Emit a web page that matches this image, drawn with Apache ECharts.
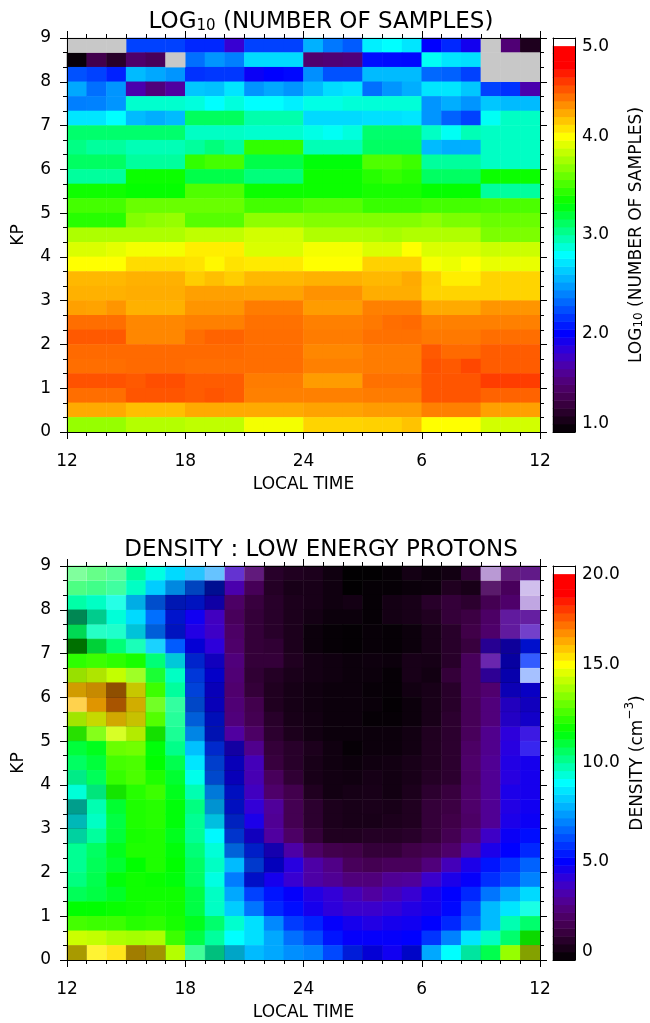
<!DOCTYPE html>
<html>
<head>
<meta charset="utf-8">
<script src="https://cdn.jsdelivr.net/npm/echarts@6/dist/echarts.min.js"></script>
<style>
  html, body { margin: 0; padding: 0; background: #ffffff; }
  #chart { width: 650px; height: 1023px; }
</style>
</head>
<body>
<div id="chart"></div>
<script>
// Hour bins in local time, starting at noon (one column per hour)
const hourBins = ['12','13','14','15','16','17','18','19','20','21','22','23','24','1','2','3','4','5','6','7','8','9','10','11'];
// Kp bins in thirds (one row each), bottom to top
const kpBins = ['0','0+','1-','1','1+','2-','2','2+','3-','3','3+','4-','4','4+','5-','5','5+','6-','6','6+','7-','7','7+','8-','8','8+','9-'];
// Labels on the major local-time ticks (every 6 h)
const timeTickLabels = ['12', '18', '24', '6', '12'];

// log10(number of samples); rows listed from Kp 9 (top) down to Kp 0; null = no samples
const logSamples = [
  [null,null,null,2.2,2.2,2.2,2.12,2.12,1.8,2.2,2.2,2.2,2.55,2.37,2.28,2.75,2.8,2.72,2.0,2.12,1.93,null,1.5,1.15],
  [1.04,1.34,1.2,1.46,1.4,null,2.34,2.46,2.39,2.68,2.68,2.68,1.48,1.5,1.52,2.04,2.03,2.02,2.82,2.72,2.7,null,null,null],
  [2.25,2.2,2.1,2.58,2.52,2.46,2.15,2.17,2.17,1.96,2.0,2.02,2.44,2.25,2.25,2.58,2.58,2.58,2.32,2.3,2.2,null,null,null],
  [2.52,2.34,2.46,1.68,1.52,1.64,2.62,2.6,2.72,2.46,2.52,2.46,2.58,2.69,2.72,2.34,2.46,2.54,2.72,2.72,2.62,2.2,2.15,1.68],
  [2.39,2.4,2.46,2.9,2.9,2.9,2.87,2.8,2.87,2.8,2.8,2.75,2.85,2.85,2.88,2.88,2.88,2.88,2.46,2.54,2.46,2.62,2.58,2.58],
  [2.72,2.72,2.8,2.58,2.54,2.58,3.13,3.13,3.13,2.97,2.97,2.97,2.68,2.68,2.68,2.7,2.7,2.72,2.46,2.3,2.2,2.82,2.92,2.92],
  [3.1,3.1,3.1,3.1,3.1,3.1,2.92,2.92,2.92,2.9,2.9,2.9,2.85,2.82,2.87,3.1,3.1,3.1,2.92,2.82,2.95,2.92,2.92,2.92],
  [3.05,3.0,3.0,2.95,2.95,2.95,3.0,3.07,3.0,3.45,3.45,3.45,2.95,2.95,2.95,3.12,3.12,3.12,2.58,2.54,2.54,2.92,2.92,2.92],
  [3.12,3.12,3.12,3.0,3.0,3.0,3.45,3.5,3.5,3.17,3.17,3.17,3.3,3.3,3.3,3.53,3.53,3.48,3.0,3.0,3.0,2.92,2.92,2.92],
  [3.0,3.0,3.0,3.35,3.35,3.35,3.17,3.17,3.17,3.07,3.07,3.07,3.35,3.35,3.35,3.42,3.46,3.42,3.12,3.12,3.12,3.35,3.35,3.35],
  [3.36,3.36,3.36,3.33,3.33,3.33,3.53,3.53,3.53,3.35,3.35,3.35,3.35,3.35,3.35,3.38,3.38,3.38,3.33,3.33,3.33,3.0,3.0,3.0],
  [3.5,3.5,3.5,3.6,3.6,3.6,3.6,3.6,3.6,3.5,3.5,3.5,3.55,3.55,3.55,3.47,3.47,3.47,3.5,3.5,3.5,3.52,3.52,3.52],
  [3.42,3.42,3.42,3.67,3.7,3.72,3.55,3.55,3.55,3.7,3.7,3.7,3.67,3.67,3.67,3.67,3.67,3.67,3.7,3.65,3.65,3.6,3.6,3.6],
  [3.78,3.78,3.78,3.78,3.78,3.78,3.83,3.83,3.83,3.88,3.88,3.88,3.79,3.79,3.79,3.78,3.76,3.79,3.79,3.79,3.79,3.65,3.65,3.65],
  [3.9,3.9,3.93,3.97,3.97,3.97,4.05,4.05,4.05,3.9,3.9,3.9,3.97,3.97,3.97,3.9,3.9,4.0,3.9,3.9,3.9,3.86,3.86,3.86],
  [4.0,4.0,4.0,4.1,4.1,4.1,4.08,4.02,4.08,4.06,4.06,4.06,4.0,4.0,4.0,4.13,4.13,4.13,3.98,3.95,4.0,3.94,3.94,3.94],
  [4.2,4.2,4.2,4.22,4.22,4.22,4.14,4.18,4.14,4.2,4.2,4.2,4.22,4.22,4.22,4.2,4.2,4.24,4.13,4.05,4.05,4.12,4.12,4.12],
  [4.22,4.22,4.22,4.23,4.23,4.23,4.27,4.27,4.27,4.26,4.26,4.26,4.31,4.31,4.31,4.23,4.23,4.23,4.12,4.12,4.12,4.12,4.12,4.12],
  [4.27,4.26,4.3,4.22,4.22,4.22,4.3,4.3,4.3,4.37,4.37,4.37,4.28,4.28,4.28,4.36,4.36,4.36,4.24,4.24,4.24,4.3,4.3,4.3],
  [4.41,4.41,4.41,4.34,4.34,4.34,4.36,4.36,4.36,4.4,4.4,4.4,4.36,4.36,4.36,4.38,4.41,4.42,4.36,4.36,4.36,4.36,4.36,4.36],
  [4.47,4.47,4.47,4.34,4.34,4.34,4.41,4.44,4.44,4.41,4.41,4.41,4.37,4.37,4.37,4.4,4.4,4.4,4.38,4.38,4.38,4.41,4.41,4.41],
  [4.42,4.42,4.42,4.42,4.42,4.42,4.42,4.42,4.42,4.41,4.41,4.41,4.34,4.34,4.34,4.37,4.37,4.37,4.47,4.42,4.42,4.46,4.46,4.46],
  [4.41,4.41,4.41,4.42,4.42,4.42,4.41,4.41,4.41,4.41,4.41,4.41,4.36,4.36,4.36,4.37,4.37,4.37,4.49,4.47,4.52,4.46,4.46,4.46],
  [4.49,4.49,4.49,4.47,4.5,4.5,4.46,4.46,4.46,4.37,4.37,4.37,4.28,4.28,4.28,4.4,4.4,4.4,4.48,4.48,4.48,4.55,4.55,4.55],
  [4.41,4.41,4.41,4.48,4.48,4.48,4.46,4.48,4.46,4.36,4.36,4.36,4.36,4.36,4.36,4.37,4.37,4.37,4.48,4.48,4.48,4.44,4.44,4.44],
  [4.24,4.24,4.24,4.18,4.18,4.18,4.24,4.24,4.24,4.24,4.24,4.24,4.26,4.26,4.26,4.28,4.28,4.28,4.36,4.36,4.36,4.27,4.27,4.27],
  [3.72,3.72,3.72,3.8,3.8,3.8,3.83,3.83,3.83,3.97,3.97,3.97,4.12,4.12,4.12,4.13,4.13,4.17,4.0,4.0,4.0,3.88,3.88,3.88]
];

// Low-energy proton density (cm^-3); rows listed from Kp 9 (top) down to Kp 0
const density = [
  [11.0,11.0,10.6,10.0,9.3,8.4,7.9,7.4,3.8,2.4,1.0,0.8,0.7,0.4,0.05,0.05,0.15,0.5,0.3,0.45,1.2,3.0,2.4,2.6],
  [10.8,10.6,10.3,9.6,8.2,7.4,6.4,5.4,3.4,1.9,0.9,0.6,0.6,0.4,0.05,0.15,0.15,0.25,0.3,0.8,0.6,2.0,2.0,3.6],
  [9.9,9.6,9.3,8.0,6.5,5.5,5.4,4.6,2.2,1.4,1.0,0.7,0.6,0.4,0.5,0.15,0.5,0.6,1.0,1.3,1.1,1.8,2.3,3.4],
  [10.0,9.8,9.4,8.4,6.7,5.4,4.7,3.7,2.0,1.3,1.0,0.7,0.5,0.3,0.3,0.15,0.5,0.6,0.8,1.3,1.5,2.2,3.0,3.0],
  [10.6,9.7,9.6,8.6,6.7,5.4,4.4,3.8,2.2,1.3,1.0,0.7,0.3,0.15,0.1,0.2,0.15,0.3,0.6,1.0,1.6,2.3,3.0,3.6],
  [11.6,10.9,10.4,9.8,8.2,6.4,4.9,4.2,2.3,1.3,1.2,0.7,0.3,0.15,0.1,0.2,0.15,0.3,0.6,1.0,1.4,4.0,4.6,5.3],
  [12.2,12.4,12.2,11.9,10.4,8.7,5.7,4.6,2.6,1.3,1.3,0.8,0.5,0.4,0.3,0.35,0.3,0.6,0.55,1.0,2.0,3.2,4.8,5.8],
  [13.9,14.2,14.2,13.5,11.3,9.6,6.0,4.9,2.5,1.2,0.9,0.65,0.5,0.4,0.3,0.3,0.15,0.6,0.45,1.3,2.0,3.8,4.8,6.2],
  [15.9,16.1,16.6,15.0,12.4,10.0,6.2,4.8,2.4,1.3,0.8,0.55,0.4,0.3,0.3,0.2,0.15,0.45,0.6,1.0,2.0,2.4,4.7,4.8],
  [15.9,16.2,16.8,15.6,12.8,10.2,6.4,4.8,2.5,1.7,0.8,0.55,0.4,0.3,0.3,0.25,0.1,0.3,0.6,1.0,1.9,2.6,4.3,4.6],
  [14.0,14.7,15.7,15.1,12.7,10.2,6.7,5.3,2.6,1.8,1.0,0.6,0.45,0.3,0.3,0.15,0.15,0.3,0.6,1.1,1.9,2.6,4.3,4.6],
  [12.2,13.2,14.4,14.2,11.9,10.2,7.3,5.4,3.2,2.2,1.1,0.7,0.45,0.3,0.3,0.3,0.3,0.45,0.8,1.1,2.0,2.9,4.2,4.3],
  [11.0,11.3,13.0,13.1,11.5,10.2,8.0,5.8,4.5,2.9,1.3,1.0,0.7,0.4,0.15,0.3,0.3,0.45,0.8,1.1,2.2,2.9,4.3,4.6],
  [10.6,11.0,12.5,12.6,11.6,10.8,8.6,6.2,4.8,3.6,1.4,1.0,0.6,0.4,0.3,0.4,0.45,0.6,0.8,1.1,2.3,3.0,4.4,4.6],
  [10.1,10.7,12.3,12.6,12.0,11.1,9.2,6.4,4.8,3.5,2.0,1.2,0.6,0.45,0.4,0.55,0.45,0.6,0.9,1.1,2.2,3.0,4.3,4.6],
  [9.4,10.2,11.9,12.1,12.4,11.3,9.8,7.2,5.3,3.7,2.3,1.7,0.8,0.45,0.55,0.6,0.45,0.7,1.1,1.4,2.3,3.0,4.5,4.6],
  [9.3,9.8,11.1,12.0,12.1,11.5,10.3,7.8,5.3,4.1,3.1,1.8,1.1,0.7,0.6,0.65,0.6,0.8,1.3,1.5,2.3,3.0,4.4,4.7],
  [9.0,9.6,10.9,12.0,12.1,11.5,10.1,8.4,5.7,4.5,3.0,1.8,1.1,0.7,0.6,0.6,0.7,0.8,1.3,1.6,2.2,3.0,4.5,4.8],
  [9.6,10.0,11.0,11.9,12.0,11.3,10.1,8.9,6.0,4.6,3.2,2.2,1.3,0.8,0.8,0.9,0.9,1.0,1.3,1.8,2.6,3.8,4.8,5.2],
  [10.1,10.6,11.3,12.0,12.0,11.5,10.4,9.4,6.8,5.6,4.5,3.3,2.2,1.7,1.6,1.3,1.3,1.6,1.8,2.3,3.3,4.5,5.0,5.6],
  [10.1,10.7,11.1,11.6,12.0,11.6,10.6,9.6,7.9,6.1,4.9,4.3,3.3,2.8,2.0,1.8,2.0,2.0,2.6,3.6,4.5,5.3,5.8,6.5],
  [10.3,10.8,11.5,11.8,11.7,11.5,10.6,9.3,6.9,5.3,4.6,4.0,3.3,3.0,2.6,2.6,3.0,3.1,3.9,4.5,4.9,5.7,6.2,7.0],
  [10.7,10.9,11.2,11.8,11.8,11.8,10.9,9.6,7.6,6.0,5.3,4.9,4.4,4.1,3.6,3.2,3.6,4.0,4.6,5.0,5.6,6.8,7.6,8.4],
  [11.6,11.6,11.7,11.8,11.9,11.8,10.9,9.6,8.2,6.8,5.6,5.2,4.6,4.2,3.9,3.9,4.1,4.4,4.6,5.1,6.2,7.9,8.6,9.3],
  [12.5,12.4,12.4,12.1,12.2,11.9,11.3,10.5,9.5,8.5,7.1,5.9,5.5,4.9,4.6,4.4,4.6,4.7,5.0,5.6,6.6,7.9,9.8,10.5],
  [14.3,14.2,13.9,13.8,13.9,12.4,10.9,10.0,9.0,8.5,7.6,6.7,6.1,5.3,4.9,4.9,4.9,5.0,5.8,7.0,8.6,9.6,10.5,11.8],
  [15.3,15.2,15.4,15.8,15.3,14.0,10.4,9.9,8.3,7.9,7.6,7.2,7.0,6.1,5.5,4.9,4.7,5.1,7.6,9.0,9.8,10.8,13.6,14.4]
];

// Cells of the density panel drawn darker than their colour level: [hour bin, Kp bin, amount]
const densityDimmed = [
  [5,25,0.12],[6,25,0.25],[7,25,0.43],
  [3,24,0.1],[4,24,0.2],[5,24,0.3],[6,24,0.25],[7,24,0.3],
  [0,23,0.47],[1,23,0.2],[5,23,0.2],
  [0,22,0.15],[3,22,0.15],[4,22,0.15],[5,22,0.25],
  [0,21,0.56],[1,21,0.18],[6,21,0.15],[21,21,0.3],[22,21,0.35],[23,21,0.2],
  [5,20,0.15],[6,20,0.2],[7,20,0.2],[22,20,0.35],
  [0,19,0.12],[1,19,0.1],[6,19,0.15],[7,19,0.2],[21,19,0.25],[22,19,0.3],
  [0,18,0.18],[1,18,0.22],[2,18,0.44],[3,18,0.22],[6,18,0.15],[7,18,0.25],[22,18,0.25],[23,18,0.2],
  [1,17,0.12],[2,17,0.34],[3,17,0.18],[6,17,0.22],[7,17,0.25],[22,17,0.15],[23,17,0.2],
  [0,16,0.1],[1,16,0.15],[2,16,0.18],[3,16,0.22],[6,16,0.15],[7,16,0.28],[22,16,0.12],[23,16,0.15],
  [0,15,0.12],[3,15,0.08],[4,15,0.12],[6,15,0.1],[7,15,0.3],
  [7,14,0.2],[8,14,0.3],
  [7,13,0.2],[8,13,0.25],
  [0,12,0.08],[7,12,0.2],[8,12,0.25],
  [1,11,0.1],[2,11,0.1],[7,11,0.15],[8,11,0.25],
  [0,10,0.38],[7,10,0.18],[8,10,0.25],
  [0,9,0.28],[7,9,0.12],[8,9,0.25],
  [0,8,0.18],[8,8,0.2],[9,8,0.2],
  [8,7,0.15],[9,7,0.22],[10,7,0.25],
  [9,6,0.2],[10,6,0.25],
  [9,5,0.22],
  [23,1,0.15],
  [0,0,0.34],[3,0,0.37],[4,0,0.37],[7,0,0.25],[8,0,0.22],[14,0,0.15],[15,0,0.15],[17,0,0.22],[20,0,0.1],[23,0,0.37]
];
// Cells of the density panel drawn paler than their colour level: [hour bin, Kp bin, amount]
const densityPaled = [
  [0,26,0.5],[1,26,0.4],[2,26,0.35],[6,26,0.15],[7,26,0.4],[8,26,0.2],[9,26,0.1],[21,26,0.6],[22,26,0.1],[23,26,0.1],
  [0,25,0.3],[1,25,0.25],[2,25,0.25],[21,25,0.1],[23,25,0.75],
  [2,24,0.15],[23,24,0.65],
  [22,23,0.1],[23,23,0.12],
  [1,22,0.15],[2,22,0.12],[22,22,0.1],[23,22,0.25],
  [3,21,0.1],[4,21,0.1],
  [21,20,0.15],[23,20,0.2],
  [3,19,0.15],[4,19,0.1],[23,19,0.65],
  [0,17,0.3],[4,17,0.15],[5,17,0.2],
  [5,16,0.15],
  [1,15,0.1],[2,15,0.15],[5,15,0.1],[23,15,0.1],
  [23,14,0.15],
  [23,3,0.1],
  [1,0,0.2],[2,0,0.1],[6,0,0.25]
];

// Rainbow + white colour table: [position 0..1, r, g, b]
const rampStops = [
  [0.00, 0, 0, 0], [0.04, 32, 0, 32], [0.08, 64, 0, 72], [0.12, 80, 0, 110],
  [0.16, 80, 0, 160], [0.20, 56, 0, 210], [0.25, 0, 0, 255], [0.35, 0, 130, 255],
  [0.45, 0, 255, 255], [0.58, 0, 255, 0], [0.75, 255, 255, 0], [0.93, 255, 0, 0],
  [0.975, 255, 0, 0], [0.98, 255, 255, 255], [1.00, 255, 255, 255]
];
function rampColor(f) {
  for (let i = 1; i < rampStops.length; i++) {
    const a = rampStops[i - 1], b = rampStops[i];
    if (f <= b[0] + 1e-9) {
      const t = b[0] === a[0] ? 1 : (f - a[0]) / (b[0] - a[0]);
      const c = [1, 2, 3].map(k => Math.round(a[k] + (b[k] - a[k]) * t));
      return 'rgb(' + c.join(',') + ')';
    }
  }
  return 'rgb(255,255,255)';
}
const palette = [];
for (let i = 0; i <= 100; i++) palette.push(rampColor(i / 100));

// Turn top-down row lists into [hour, kp, value] heatmap cells
function toCells(rows) {
  const out = [];
  rows.forEach((row, i) => {
    const k = rows.length - 1 - i;
    row.forEach((v, h) => { if (v !== null) out.push([h, k, v]); });
  });
  return out;
}
function missingCells(rows) {
  const out = [];
  rows.forEach((row, i) => {
    const k = rows.length - 1 - i;
    row.forEach((v, h) => { if (v === null) out.push([h, k, 1]); });
  });
  return out;
}
// Colour-bar ramp: evenly spaced levels from min to max
const BAR_LEVELS = 50;
function barCells(min, max) {
  const out = [];
  for (let i = 0; i < BAR_LEVELS; i++) out.push([0, i, min + (i + 0.5) * (max - min) / BAR_LEVELS]);
  return out;
}
const barCats = Array.from({ length: BAR_LEVELS }, (_, i) => String(i));

const FONT = 'DejaVu Sans';
const INK = '#000000';
const axisInk = { color: INK, width: 1 };

const gridList = [], xAxisList = [], yAxisList = [], seriesList = [], visualMapList = [];

function addPanel(panelTop, cfg) {
  const g = gridList.length;
  gridList.push({ left: 67, top: panelTop, width: 473, height: 394 });
  gridList.push({ left: 553, top: panelTop, width: 22, height: 394 });
  const b = g + 1;

  const xCat = xAxisList.length;
  xAxisList.push({ type: 'category', gridIndex: g, data: hourBins, show: false });
  xAxisList.push({
    type: 'value', gridIndex: g, position: 'bottom', min: 0, max: 24, interval: 6, z: 10,
    axisLine: { show: true, onZero: false, lineStyle: axisInk },
    axisTick: { show: true, length: 7, lineStyle: axisInk },
    minorTick: { show: true, splitNumber: 6, length: 4, lineStyle: axisInk },
    splitLine: { show: false },
    axisLabel: { color: INK, fontSize: 17, fontFamily: FONT, margin: 21,
      formatter: v => timeTickLabels[Math.round(v / 6)] },
    name: 'LOCAL TIME', nameLocation: 'middle', nameGap: 44,
    nameTextStyle: { color: INK, fontSize: 17, fontFamily: FONT }
  });
  xAxisList.push({
    type: 'value', gridIndex: g, position: 'top', min: 0, max: 24, interval: 6, z: 10,
    axisLine: { show: true, onZero: false, lineStyle: axisInk },
    axisTick: { show: true, length: 7, lineStyle: axisInk },
    minorTick: { show: true, splitNumber: 6, length: 4, lineStyle: axisInk },
    splitLine: { show: false }, axisLabel: { show: false }
  });
  const yCat = yAxisList.length;
  yAxisList.push({ type: 'category', gridIndex: g, data: kpBins, show: false });
  yAxisList.push({
    type: 'value', gridIndex: g, position: 'left', min: 0, max: 9, interval: 1, z: 10,
    axisLine: { show: true, onZero: false, lineStyle: axisInk },
    axisTick: { show: true, length: 7, lineStyle: axisInk },
    minorTick: { show: true, splitNumber: 3, length: 4, lineStyle: axisInk },
    splitLine: { show: false },
    axisLabel: { color: INK, fontSize: 17, fontFamily: FONT, margin: 16 },
    name: 'KP', nameLocation: 'middle', nameGap: 40, nameRotate: 90,
    nameTextStyle: { color: INK, fontSize: 17, fontFamily: FONT }
  });
  yAxisList.push({
    type: 'value', gridIndex: g, position: 'right', min: 0, max: 9, interval: 1, z: 10,
    axisLine: { show: true, onZero: false, lineStyle: axisInk },
    axisTick: { show: true, length: 7, lineStyle: axisInk },
    minorTick: { show: true, splitNumber: 3, length: 4, lineStyle: axisInk },
    splitLine: { show: false }, axisLabel: { show: false }
  });

  // colour bar
  const xBar = xAxisList.length;
  xAxisList.push({ type: 'category', gridIndex: b, data: ['0'], position: 'bottom', z: 10,
    axisLine: { show: true, onZero: false, lineStyle: axisInk }, axisTick: { show: false }, axisLabel: { show: false } });
  xAxisList.push({ type: 'category', gridIndex: b, data: ['0'], position: 'top', z: 10,
    axisLine: { show: true, onZero: false, lineStyle: axisInk }, axisTick: { show: false }, axisLabel: { show: false } });
  const yBar = yAxisList.length;
  yAxisList.push({ type: 'category', gridIndex: b, data: barCats, show: false });
  yAxisList.push({
    type: 'value', gridIndex: b, position: 'right', min: cfg.min, max: cfg.max, interval: cfg.step, z: 10,
    axisLine: { show: true, onZero: false, lineStyle: axisInk }, axisTick: { show: false },
    splitLine: { show: false },
    axisLabel: { color: INK, fontSize: 17, fontFamily: FONT, margin: 7, formatter: cfg.fmt,
      verticalAlignMinLabel: 'bottom', verticalAlignMaxLabel: 'top' },
    name: cfg.barName, nameLocation: 'middle', nameGap: 48, nameRotate: 90,
    nameTextStyle: { color: INK, fontSize: 17, fontFamily: FONT, fontWeight: 'normal', rich: {
      t: { fontSize: 17, fontFamily: FONT, fontWeight: 'normal', color: INK, lineHeight: 22, verticalAlign: 'bottom' },
      s: { fontSize: 12, fontFamily: FONT, fontWeight: 'normal', color: INK, lineHeight: 12, verticalAlign: 'bottom' },
      p: { fontSize: 12, fontFamily: FONT, fontWeight: 'normal', color: INK, lineHeight: 12, verticalAlign: 'top' }
    } }
  });
  yAxisList.push({ type: 'value', gridIndex: b, position: 'left', min: cfg.min, max: cfg.max, z: 10,
    axisLine: { show: true, onZero: false, lineStyle: axisInk }, axisTick: { show: false },
    splitLine: { show: false }, axisLabel: { show: false } });

  const sMain = seriesList.length;
  seriesList.push({ type: 'heatmap', name: cfg.name, xAxisIndex: xCat, yAxisIndex: yCat,
    data: cfg.cells, emphasis: { disabled: true } });
  const sBar = seriesList.length;
  seriesList.push({ type: 'heatmap', name: cfg.name + ' scale', xAxisIndex: xBar, yAxisIndex: yBar,
    data: barCells(cfg.min, cfg.max), emphasis: { disabled: true } });
  visualMapList.push({ type: 'continuous', show: false, seriesIndex: [sMain, sBar], dimension: 2,
    min: cfg.min, max: cfg.max, inRange: { color: palette } });

  return { xCat, yCat };
}

const samplesPanel = addPanel(38, {
  name: 'samples', min: 1, max: 5, step: 1, fmt: v => v.toFixed(1),
  cells: toCells(logSamples),
  barName: '{t|LOG}{s|10}{t| (NUMBER OF SAMPLES)}'
});
// bins with no samples
seriesList.push({ type: 'heatmap', name: 'no samples', xAxisIndex: samplesPanel.xCat, yAxisIndex: samplesPanel.yCat,
  data: missingCells(logSamples), emphasis: { disabled: true } });
visualMapList.push({ type: 'continuous', show: false, seriesIndex: [seriesList.length - 1], dimension: 2,
  min: 0, max: 2, inRange: { color: ['#c8c8c8', '#c8c8c8'] } });

const densityPanel = addPanel(566, {
  name: 'density', min: 0, max: 20, step: 5, fmt: v => (v === 0 ? '0' : v.toFixed(1)),
  cells: toCells(density),
  barName: '{t|DENSITY (cm}{p|\u22123}{t|)}'
});
seriesList.push({ type: 'heatmap', name: 'dimmed', xAxisIndex: densityPanel.xCat, yAxisIndex: densityPanel.yCat,
  data: densityDimmed, emphasis: { disabled: true } });
visualMapList.push({ type: 'continuous', show: false, seriesIndex: [seriesList.length - 1], dimension: 2,
  min: 0, max: 1, inRange: { color: ['rgba(0,0,0,0)', 'rgba(0,0,0,1)'] } });
seriesList.push({ type: 'heatmap', name: 'paled', xAxisIndex: densityPanel.xCat, yAxisIndex: densityPanel.yCat,
  data: densityPaled, emphasis: { disabled: true } });
visualMapList.push({ type: 'continuous', show: false, seriesIndex: [seriesList.length - 1], dimension: 2,
  min: 0, max: 1, inRange: { color: ['rgba(255,255,255,0)', 'rgba(255,255,255,1)'] } });

const titleRich = {
  t: { fontSize: 23, fontFamily: FONT, fontWeight: 'normal', color: INK, lineHeight: 28, verticalAlign: 'bottom' },
  s: { fontSize: 15, fontFamily: FONT, fontWeight: 'normal', color: INK, lineHeight: 15, verticalAlign: 'bottom' }
};

const chart = echarts.init(document.getElementById('chart'), null, { renderer: 'canvas' });
chart.setOption({
  animation: false,
  backgroundColor: '#ffffff',
  textStyle: { fontFamily: FONT, color: INK },
  title: [
    { text: '{t|LOG}{s|10}{t| (NUMBER OF SAMPLES)}', left: 321, top: 6, textAlign: 'center', padding: 0,
      textStyle: { fontWeight: 'normal', rich: titleRich } },
    { text: '{t|DENSITY : LOW ENERGY PROTONS}', left: 321, top: 534, textAlign: 'center', padding: 0,
      textStyle: { fontWeight: 'normal', rich: titleRich } }
  ],
  grid: gridList, xAxis: xAxisList, yAxis: yAxisList, visualMap: visualMapList, series: seriesList
});
</script>
</body>
</html>
